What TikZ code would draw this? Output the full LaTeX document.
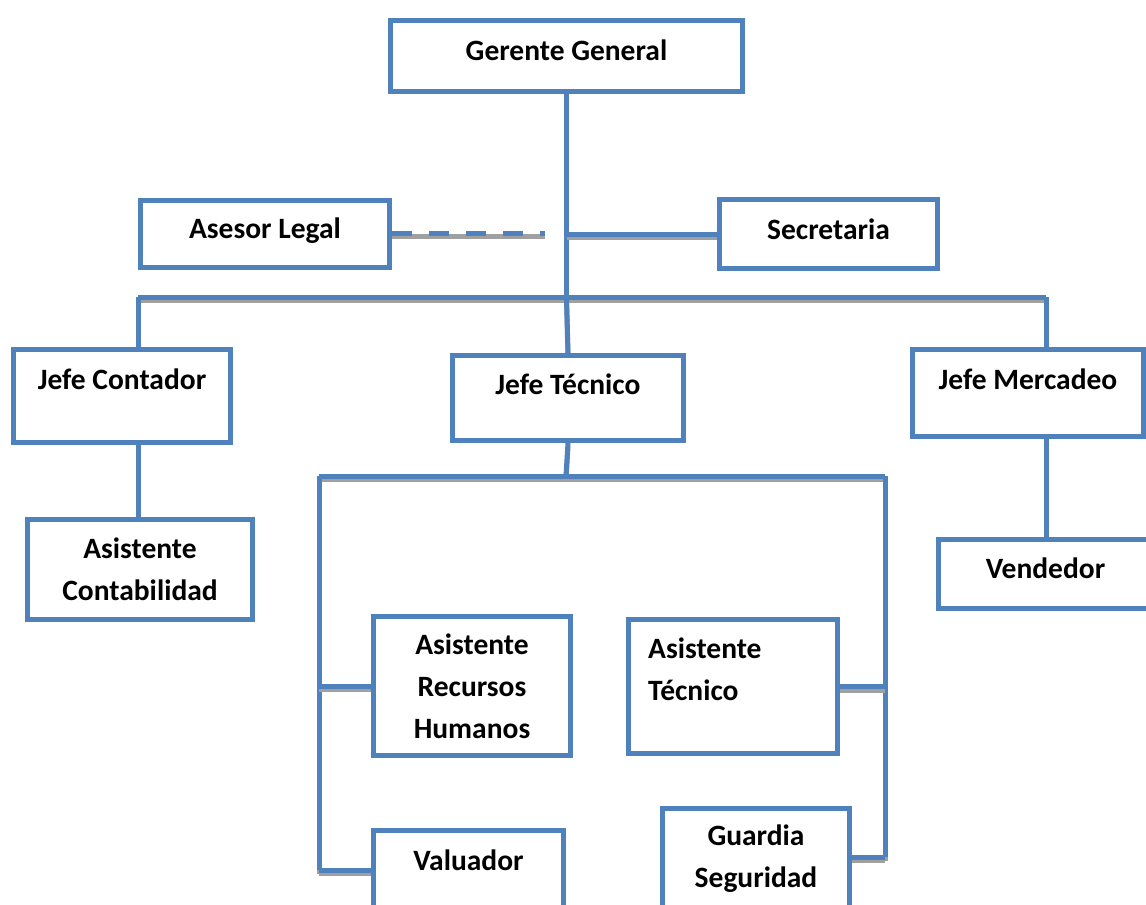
\documentclass[tikz,border=0pt]{standalone}
\usepackage{fontspec}
\setmainfont{Carlito}
\usepackage{tikz}
\usetikzlibrary{backgrounds}
\usetikzlibrary{shapes,positioning}
\definecolor{penColor}{HTML}{4F81BD}
\definecolor{shadeColor}{HTML}{A0A0A0}
\tikzset{
  box/.style={draw=penColor,line width=5pt,fill=white,inner sep=0pt},
  lbl/.style={font=\bfseries\fontsize{29.5}{42}\selectfont,align=center,inner sep=0pt},
  conn/.style={draw=penColor,line width=5pt,
    preaction={draw=shadeColor,line width=5pt,transform canvas={yshift=-3.5pt}}}
}

\begin{document}
\begin{tikzpicture}[x=1pt,y=-1pt]
    \useasboundingbox (0,0) rectangle (1146,905);
    \clip (0,0) rectangle (1146,905);

    % boxes
    \node[box,minimum width=352pt,minimum height=71pt] (gg) at (566.5,56) {};
    \node[box,minimum width=249pt,minimum height=67pt] (al) at (265,234) {};
    \node[box,minimum width=218pt,minimum height=69pt] (sec) at (828.5,234) {};
    \node[box,minimum width=217pt,minimum height=93pt] (jc) at (122,396) {};
    \node[box,minimum width=231pt,minimum height=85pt] (jt) at (568,398) {};
    \node[box,minimum width=231pt,minimum height=87pt] (jm) at (1028,393) {};
    \node[box,minimum width=225pt,minimum height=100pt] (ac) at (140,569.5) {};
    \node[box,minimum width=214pt,minimum height=69pt] (ven) at (1045.5,574) {};
    \node[box,minimum width=197pt,minimum height=139pt] (rrhh) at (472,686) {};
    \node[box,minimum width=209pt,minimum height=134pt] (at) at (733,686.5) {};
    \node[box,minimum width=190pt,minimum height=79pt] (val) at (468.5,870) {};
    \node[box,minimum width=187pt,minimum height=101pt] (gs) at (756,859) {};

    % texts
    \node[lbl] (gg-t) at ([yshift=6pt]gg.center) {Gerente General};
    \node[lbl] (al-t) at ([yshift=3pt]al.center) {Asesor Legal};
    \node[lbl] (sec-t) at ([yshift=5pt]sec.center) {Secretaria};
    \node[lbl] (jc-t) at ([yshift=17pt]jc.center) {Jefe Contador};
    \node[lbl] (jt-t) at ([yshift=14pt]jt.center) {Jefe Técnico};
    \node[lbl] (jm-t) at ([yshift=14pt]jm.center) {Jefe Mercadeo};
    \node[lbl] (ac-t) at (ac.center) {Asistente\\Contabilidad};
    \node[lbl] (ven-t) at ([yshift=6pt]ven.center) {Vendedor};
    \node[lbl] (rrhh-t) at (rrhh.center) {Asistente\\Recursos\\Humanos};
    \node[lbl,align=left,anchor=west] (at-t) at ([xshift=-85pt,yshift=17pt]at.center) {Asistente\\Técnico};
    \node[lbl] (val-t) at ([yshift=10pt]val.center) {Valuador};
    \node[lbl] (gs-t) at (gs.center) {Guardia\\Seguridad};

    % connectors
    \coordinate (topL) at (138,297);
    \coordinate (topR) at (1046,297);
    \coordinate (techL) at (319,476);
    \coordinate (techR) at (885,476);
    \coordinate (dashEnd) at (545,233);
    \coordinate (gsJoin) at (849,857);
    \begin{scope}[on background layer]
      \draw[conn] (gg.south) -- (gg.south |- topL);
      \draw[conn] (gg.south |- sec.west) -- (sec.west);
      \draw[conn,dash pattern=on 20pt off 17pt] (al.east |- dashEnd) -- (dashEnd);
      \draw[conn] (topL) -- (topR);
      \draw[conn] (topL) -- (topL |- jc.north);
      \draw[conn] (gg.south |- topL) -- (jt.north);
      \draw[conn] (topR) -- (topR |- jm.north);
      \draw[conn] (topL |- jc.south) -- ([yshift=-4pt]topL |- ac.north);
      \draw[conn] (topR |- jm.south) -- ([yshift=-8pt]topR |- ven.north);
      \draw[conn] (jt.south) -- ([xshift=-2pt]jt.south |- techL);
      \draw[conn] (techL) -- (techR);
      \draw[conn] (techL) -- (techL |- val.west);
      \draw[conn] (techL |- rrhh.west) -- (rrhh.west);
      \draw[conn] (techL |- val.west) -- (val.west);
      \draw[conn] (techR) -- (techR |- gsJoin);
      \draw[conn] (at.east) -- (techR |- at.east);
      \draw[conn] (gsJoin) -- (techR |- gsJoin);
    \end{scope}
\end{tikzpicture}
\end{document}
